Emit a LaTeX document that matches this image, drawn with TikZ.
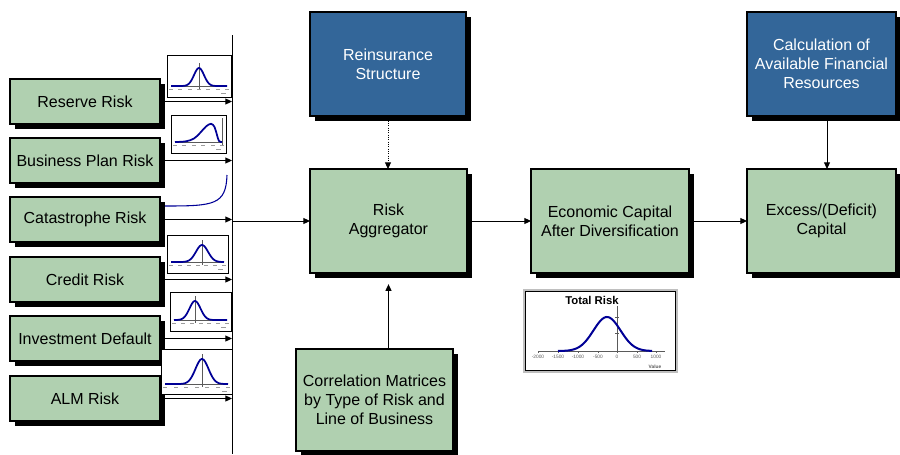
\documentclass[tikz,border=0pt]{standalone}
\usepackage{fontspec}
\setmainfont{Liberation Sans}
\usetikzlibrary{arrows.meta,calc}
\definecolor{boxgreen}{RGB}{176,208,176}
\definecolor{boxblue}{RGB}{51,102,153}
\definecolor{curveblue}{RGB}{0,0,150}
\definecolor{axisgray}{RGB}{90,90,90}
\definecolor{shadowcol}{RGB}{0,0,0}
\newcommand{\minibell}[8]{% x0 y0 x1 y1 mu peak-y axis-y sigma
  \pgfmathsetmacro\mbA{#1+4}\pgfmathsetmacro\mbB{#3-4}
  \draw[thumbframe] (#1,#2) rectangle (#3,#4);
  \draw[axisline] (\mbA,#7) -- (\mbB,#7);
  \foreach \t in {0,1,...,6}{\fill[axisgray!60] ({\mbA+\t*(\mbB-\mbA)/6-2},#7+3) rectangle ++(4,0.8);}
  \fill[axisgray!60] (\mbB-6,#7+7) rectangle ++(5,0.8);
  \draw[axisline] (#5,#6-5) -- (#5,#7+3);
  \draw[bellline] plot[domain=\mbA:\mbB, samples=70, smooth] (\x,{#7-(#7-#6)*exp(-((\x-#5)^2)/(2*#8*#8))});
}
% shadow: centre x, centre y, width, height (px)
\newcommand{\boxshadow}[4]{%
  \fill[shadowcol] ({#1-#3/2+4.5},{#2-#4/2+4.5}) rectangle ({#1+#3/2+4.5},{#2+#4/2+4.5});
}
\begin{document}
\begin{tikzpicture}[x=0.75pt,y=-0.75pt,
  every node/.style={font=\fontsize{12}{14.3}\selectfont, align=center, inner sep=0pt, outer sep=0pt},
  box/.style={draw=black, line width=1pt},
  gbox/.style={box, fill=boxgreen},
  bbox/.style={box, fill=boxblue, text=white},
  riskbox/.style={gbox, minimum width=112.5pt, minimum height=33.75pt},
  bigbox/.style={minimum width=117.75pt, minimum height=78pt},
  arr/.style={draw=black, line width=0.75pt, -{Triangle[length=5pt,width=4.5pt]}},
  thumbframe/.style={draw=black, line width=0.75pt, fill=white},
  axisline/.style={draw=axisgray, line width=0.5pt},
  bellline/.style={draw=curveblue, line width=1.3pt},
  tick/.style={font=\fontsize{3.6}{4}\selectfont, text=axisgray}
]
\useasboundingbox (0,0) rectangle (900,454);

% drop shadows (drawn first, boxes cover them)
\foreach \yy in {101.5,160.5,219.5,279.5,338.5,398.5}{\boxshadow{85}{\yy}{150}{45}}
\boxshadow{388}{64}{156}{104}
\boxshadow{388.5}{221}{157}{104}
\boxshadow{374.5}{400}{157}{102}
\boxshadow{610}{221}{158}{104}
\boxshadow{821.5}{221}{149}{104}
\boxshadow{821.5}{64}{149}{104}

% left risk boxes
\node[riskbox] (reserve) at (85,101.5) {Reserve Risk};
\node[riskbox] (business) at (85,160.5) {Business Plan Risk};
\node[riskbox] (cat) at (85,219.5) {Catastrophe Risk};
\node[riskbox] (credit) at (85,279.5) {Credit Risk};
\node[riskbox] (invest) at (85,338.5) {Investment Default};
\node[riskbox] (alm) at (85,398.5) {ALM Risk};

% central boxes
\node[bbox, bigbox, minimum width=117pt] (reins) at (388,64) {Reinsurance\\Structure};
\node[gbox, bigbox] (agg) at (388.5,221) {Risk\\Aggregator};
\node[gbox, bigbox, minimum height=76.5pt] (corr) at (374.5,400) {Correlation Matrices\\by Type of Risk and\\Line of Business};
\node[gbox, bigbox, minimum width=118.5pt] (econ) at (610,221) {Economic Capital\\After Diversification};
\node[gbox, bigbox, minimum width=111.75pt] (excess) at (821.5,221) {Excess/(Deficit)\\Capital};
\node[bbox, bigbox, minimum width=111.75pt] (calc) at (821.5,64) {Calculation of\\Available Financial\\Resources};

% vertical collector line
\coordinate (vtop) at (232,35);
\coordinate (vbot) at (232,454);
\draw[line width=0.75pt] (vtop) -- (vbot);

% mini charts
\minibell{167}{55}{231}{97}{199}{68}{86}{5}
\draw[thumbframe] (171,115) rectangle (226,153);
\draw[axisline] (175,142) -- (222,142);
\foreach \t in {0,1,...,5}{\fill[axisgray!60] ({175+\t*9.4-2},145) rectangle ++(4,0.8);}
\fill[axisgray!60] (216,149) rectangle ++(5,0.8);
\draw[axisline] (222,118) -- (222,145);
\draw[bellline] plot[smooth, tension=0.6] coordinates {(175,142) (186,141.3) (194,138.5) (200,133) (206,126.5) (211,123.8) (214.5,127) (217,135) (219,141) (222,142)};
\minibell{167}{235}{228}{273}{202}{245}{262}{6}
\minibell{170}{292}{231}{331}{195}{301}{320}{5.5}
\minibell{161}{349}{232}{394}{202}{359}{384}{6.5}
% catastrophe tail curve
\draw[curveblue, line width=0.8pt] (165,206) .. controls (214,206) and (226,205) .. (227,175);

% arrows from risk boxes to collector
\foreach \nm in {reserve,business,cat,credit,invest,alm}{
  \draw[arr] ($(\nm.east)+(4.5,0)$) -- (\nm.east -| vtop);
}
\draw[arr] (agg.west -| vtop) -- (agg.west);
\draw[arr, densely dotted] ($(reins.south)+(0,4.5)$) -- (reins.south |- agg.north);
\draw[arr, shorten >=5pt] (corr.north -| agg.south) -- ($(agg.south)+(0,4.5)$);
\draw[arr] ($(agg.east)+(4.5,0)$) -- (econ.west);
\draw[arr] ($(econ.east)+(4.5,0)$) -- (excess.west);
\draw[arr] ($(calc.south west)+(80,4.5)$) -- ($(excess.north west)+(80,0)$);

% Total Risk chart
\draw[draw=black!25, line width=2pt, fill=white] (524,290) rectangle (677,372);
\draw[draw=black, line width=0.5pt] (525.5,291.5) rectangle (675.5,370.5);
\node[font=\bfseries\fontsize{8.5}{9}\selectfont] (trtitle) at (592,300) {Total Risk};
\draw[axisline] (538,351) -- (665,351);
\draw[axisline] (617,306) -- (617,351);
\foreach \yy in {317,333}{\draw[axisline] (615,\yy) -- (619,\yy);}
\foreach \v/\xx in {-2000/538,-1500/558,-1000/578,-500/598,0/617,500/637,1000/656}{
  \draw[axisline] (\xx,351) -- (\xx,353);
  \node[tick] at (\xx,357) {\v};
}
\node[tick, font=\bfseries\fontsize{3.6}{4}\selectfont] (trvalue) at (655,367) {Value};
\draw[bellline, line width=1.5pt] plot[domain=558:652, samples=80, smooth] (\x,{351-34*exp(-((\x-607)^2)/(2*13.5*13.5))});
\end{tikzpicture}
\end{document}
